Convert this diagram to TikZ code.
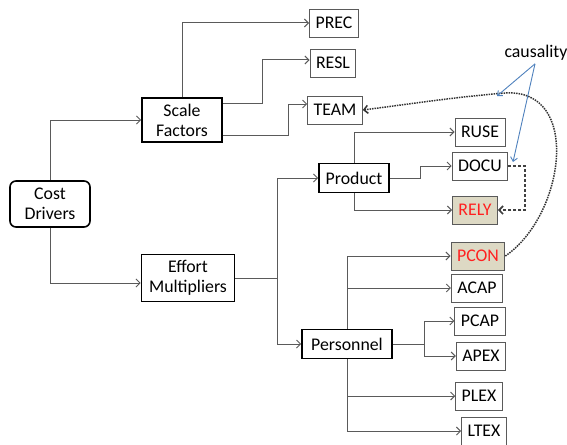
\documentclass[tikz,border=0pt]{standalone}
\usepackage{fontspec}
\setmainfont{Carlito}
\usepackage{tikz}
\usetikzlibrary{arrows.meta, positioning, calc}
\definecolor{cdgray}{HTML}{5A5A5A}
\definecolor{cdtan}{HTML}{DDD9C4}
\definecolor{cdred}{HTML}{FF2020}
\definecolor{cdblue}{HTML}{4F81BD}

\begin{document}
\begin{tikzpicture}[
  x=1pt, y=-1pt,
  every node/.style={font=\fontsize{17.8}{20}\selectfont, inner sep=0pt},
  group/.style={draw=black, line width=1.6pt, align=center},
  driver/.style={draw=cdgray, line width=0.9pt, minimum height=28pt, inner xsep=6pt, fill=white},
  flagged/.style={driver, fill=cdtan, text=cdred},
  link/.style={draw=cdgray, line width=1pt, -{Straight Barb[length=4pt, width=8pt]}},
  causal/.style={draw=black!80, line width=1.5pt, densely dotted, -{Straight Barb[length=4pt, width=8pt]}},
  chain/.style={draw=black!75, line width=1.6pt, dash pattern=on 3pt off 2pt, -{Straight Barb[length=4pt, width=8pt]}},
  note/.style={draw=cdblue, line width=0.9pt, -{Straight Barb[length=4pt, width=7pt]}}
]
\useasboundingbox (0,0) rectangle (567,444);

\node[group, rounded corners=6pt, minimum width=80pt, minimum height=46pt] (cost) at (50,204) {Cost\\Drivers};
\node[group, minimum width=80pt, minimum height=44pt] (scale) at (182,120) {Scale\\Factors};
\node[group, minimum width=93pt, minimum height=47pt] (effort) at (188,278) {Effort\\Multipliers};
\node[group, minimum width=70pt, minimum height=29pt] (product) at (354,178) {Product};
\node[group, minimum width=90pt, minimum height=29pt] (personnel) at (347,344) {Personnel};

\node[driver] (prec) at (334,23) {PREC};
\node[driver] (resl) at (333,63) {RESL};
\node[driver] (team) at (335,110) {TEAM};
\node[driver] (ruse) at (480,132) {RUSE};
\node[driver] (docu) at (480,166) {DOCU};
\node[flagged] (rely) at (475,210) {RELY};
\node[flagged] (pcon) at (478,256) {PCON};
\node[driver] (acap) at (477,288) {ACAP};
\node[driver] (pcap) at (480,321) {PCAP};
\node[driver] (apex) at (481,356) {APEX};
\node[driver] (plex) at (479,396) {PLEX};
\node[driver] (ltex) at (484,431) {LTEX};

\node (causality) at (536,53) {causality};

\draw[link] (cost.north) |- (scale.west);
\draw[link] (cost.south) |- ([yshift=-5pt]effort.west);

\draw[link] (scale.north) |- (prec.west);
\draw[link] ([yshift=17pt]scale.east) -- ++(40,0) |- ([yshift=3pt]resl.west);
\draw[link] ([yshift=-15pt]scale.east) -- ++(66,0) |- ([yshift=6pt]team.west);

\draw[link] (effort.east) -- ++(42,0) coordinate (effortjoin) |- (product.west);
\draw[link] (effortjoin) |- (personnel.west);

\draw[link] (product.north) |- (ruse.west);
\draw[link] (product.east) -- ++(31,0) |- (docu.west);
\draw[link] (product.south) |- (rely.west);

\draw[link] (personnel.north) |- (pcon.west);
\draw[link] (personnel.north) |- (acap.west);
\draw[link] (personnel.east) -- ++(32,0) coordinate (personneljoin) |- (pcap.west);
\draw[link] (personneljoin) |- (apex.west);
\draw[link] (personnel.south) |- (plex.west);
\draw[link] (personnel.south) |- (ltex.west);

\draw[chain] (docu.east) -- ++(17,0) |- (rely.east);
\coordinate (crest) at (505,93);
\draw[causal] (pcon.east) .. controls (565,215) and (582,88) .. (crest)
  .. controls (455,97) and (410,104) .. (team.east);

\coordinate (crestmark) at (497,96);
\coordinate (chainmark) at (513,162);
\draw[note] ([xshift=-1pt, yshift=-3pt]causality.south) -- (crestmark);
\draw[note] ([xshift=-1pt, yshift=-3pt]causality.south) -- (chainmark);
\end{tikzpicture}
\end{document}
